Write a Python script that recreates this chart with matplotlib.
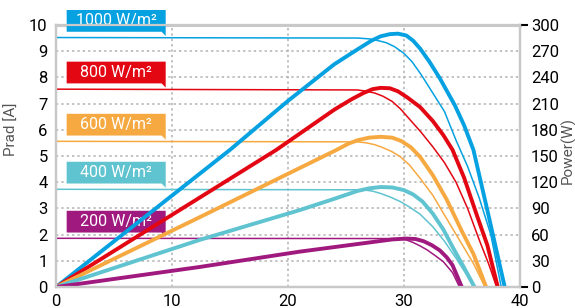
import matplotlib.pyplot as plt
from matplotlib.patches import Polygon

plt.rcParams['font.family'] = ['Roboto', 'DejaVu Sans']

# irradiance levels
labels = ['1000 W/m²', '800 W/m²', '600 W/m²', '400 W/m²', '200 W/m²']
colors = ['#06a1e1', '#e30613', '#f7a941', '#5fc3d0', '#a0197f']
isc = [9.52, 7.55, 5.56, 3.73, 1.86]

# current curves (thin, left axis, A)
iv_v = [
    [0, 26, 27, 27.8, 28.5, 29.2, 30, 30.7, 31.5, 32.5, 33.5, 34.5, 35.5, 36.5, 37.5, 38.4],
    [0, 26, 26.8, 27.5, 28.2, 29, 29.7, 30.5, 31.5, 32.5, 33.5, 34.5, 35.5, 36.5, 37.3, 38.0],
    [0, 26, 26.8, 27.5, 28.2, 29, 29.7, 30.5, 31.4, 32.5, 33.5, 34.8, 36.0, 37.0],
    [0, 26.5, 27.3, 28, 28.8, 29.7, 30.5, 31.4, 32.5, 33.5, 34.5, 35.3, 36.0],
    [0, 29.5, 30.2, 30.8, 31.4, 32.0, 32.7, 33.4, 34.2, 34.8],
]
iv_i = [
    [9.52, 9.50, 9.47, 9.4, 9.32, 9.17, 8.92, 8.6, 8.1, 7.4, 6.7, 5.6, 4.6, 3.4, 2.0, 0],
    [7.55, 7.52, 7.47, 7.4, 7.28, 7.08, 6.8, 6.4, 5.9, 5.35, 4.75, 4.0, 3.0, 1.8, 0.9, 0],
    [5.56, 5.54, 5.5, 5.43, 5.32, 5.16, 4.97, 4.65, 4.15, 3.5, 2.75, 1.79, 0.9, 0],
    [3.73, 3.71, 3.66, 3.57, 3.44, 3.26, 3.05, 2.78, 2.3, 1.75, 1.1, 0.55, 0],
    [1.86, 1.85, 1.8, 1.7, 1.57, 1.42, 1.2, 0.97, 0.55, 0],
]

# power curves (thick, right axis, W)
pv_v = [
    [0, 15, 20, 24, 26, 27.2, 28, 28.8, 29.5, 30.2, 30.8, 31.4, 32.2, 33.1, 34.4, 35.2, 36.0, 37.2, 38.7],
    [0, 19, 24, 25.5, 26.5, 27.3, 28, 28.8, 29.5, 30.3, 31.4, 32.5, 33.4, 34.2, 35.2, 36.3, 37.2, 38.1],
    [0, 12.4, 24.2, 25.2, 26, 27, 28, 29, 29.8, 30.6, 31.4, 32.5, 33.7, 35, 36, 37.1],
    [0, 12.4, 21, 24, 26, 27, 28, 29, 30, 30.8, 31.6, 32.5, 33.4, 34.2, 35.2, 36.1],
    [0, 12.4, 21, 27, 29, 30.2, 31, 31.7, 32.4, 33.1, 33.7, 34.2, 35.0],
]
pv_p = [
    [0, 157, 213, 255, 272, 282, 287, 289.5, 290, 288, 282, 273, 258, 239, 208, 185, 157, 88, 0],
    [0, 157, 203, 215, 222, 226.5, 228, 227.5, 224, 217, 206, 190, 174, 157, 125, 82, 48, 0],
    [0, 80, 157, 164, 168, 171, 172, 171, 167, 160, 149, 128, 100, 64, 38, 0],
    [0, 54, 88, 101, 110, 113, 114.5, 114, 111, 106, 98, 84, 66, 46, 22, 0],
    [0, 23, 40.5, 51, 54.5, 55.5, 55, 52.5, 48, 42, 34, 25, 0],
]

fig = plt.figure(figsize=(5.75, 3.08), dpi=100)
ax = fig.add_axes([0.0974, 0.068, 0.8066, 0.851])
ax2 = ax.twinx()

ax.set_xlim(0, 40)
ax.set_ylim(0, 10)
ax2.set_ylim(0, 300)
ax.set_xticks(range(0, 41, 10))
ax.set_yticks(range(0, 11))
ax2.set_yticks(range(0, 301, 30))

# dotted grid
for y in range(1, 10):
    ax.axhline(y, color='#b0b0b0', lw=1.1, ls=(0, (1.5, 2)), zorder=0)
for x in (10, 20, 30):
    ax.axvline(x, color='#b0b0b0', lw=1.1, ls=(0, (1.5, 2)), zorder=0)

for a in (ax, ax2):
    for s in a.spines.values():
        s.set_color('#c8c8c8')
        s.set_linewidth(1.6)
ax.spines['top'].set_linewidth(2.2)

ax.tick_params(axis='y', length=0, pad=6, labelsize=12)
ax.tick_params(axis='x', length=0, pad=5, labelsize=12)
ax2.tick_params(axis='y', length=0, pad=8, labelsize=12)

# small black dashes at the ends of the power axis
ax2.plot([1.0, 1.015], [0, 0], transform=ax2.get_yaxis_transform(),
         color='black', lw=1.5, clip_on=False)
ax2.plot([1.0, 1.015], [300, 300], transform=ax2.get_yaxis_transform(),
         color='black', lw=1.5, clip_on=False)

for i in range(len(labels)):
    ax.plot(iv_v[i], iv_i[i], color=colors[i], lw=1.1, zorder=3)
    ax2.plot(pv_v[i], pv_p[i], color=colors[i], lw=2.8,
             solid_capstyle='butt', solid_joinstyle='round')

    # label box with small tail pointing at the current line
    x0, x1 = 0.92, 9.46
    yb, yt = isc[i] + 0.22, isc[i] + 1.05
    box = Polygon([[x0, yb], [x0, yt], [x1, yt], [x1, isc[i] + 0.06],
                   [x1 - 0.35, yb]], closed=True, facecolor=colors[i],
                  edgecolor='none', clip_on=False, zorder=5)
    ax.add_patch(box)
    ax.text((x0 + x1) / 2, (yb + yt) / 2, labels[i], color='white',
            fontsize=11.5, ha='center', va='center', zorder=6, clip_on=False)

ax.set_ylabel('Prad [A]', color='#555555', fontsize=11)
ax.yaxis.set_label_coords(-0.08, 0.6)
ax2.set_ylabel('Power(W)', color='#555555', fontsize=11)
ax2.yaxis.set_label_coords(1.088, 0.52)

fig.savefig('out.png', dpi=100)
